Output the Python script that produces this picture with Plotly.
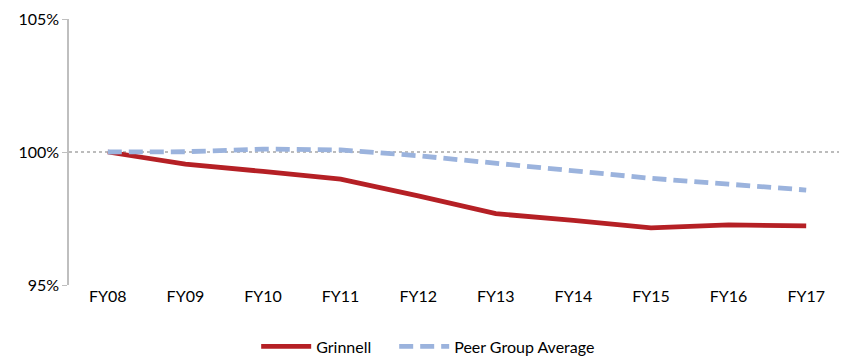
import plotly.graph_objects as go

categories = ["FY08", "FY09", "FY10", "FY11", "FY12", "FY13", "FY14", "FY15", "FY16", "FY17"]
grinnell = [100.0, 99.54, 99.27, 98.98, 98.35, 97.68, 97.43, 97.15, 97.26, 97.22]
peer_avg = [100.0, 100.01, 100.11, 100.08, 99.86, 99.58, 99.3, 99.01, 98.79, 98.57]
y_ticks = [95, 100, 105]
y_tick_labels = ["95%", "100%", "105%"]

fig = go.Figure()
fig.add_trace(go.Scatter(x=categories, y=grinnell, mode="lines", name="Grinnell",
                         line=dict(color="#B52025", width=4.8), legend="legend"))
fig.add_trace(go.Scatter(x=categories, y=peer_avg, mode="lines", name="Peer Group Average",
                         line=dict(color="#9BB3DD", width=4.8, dash="14px,7px"),
                         legend="legend2"))

fig.add_shape(type="line", xref="paper", yref="y", x0=0, x1=1, y0=100, y1=100,
              line=dict(color="#A6A6A6", width=1.5, dash="dot"), layer="below")

legend_common = dict(orientation="h", xanchor="left", xref="container",
                     y=0.03, yanchor="middle", yref="container",
                     font=dict(size=16), itemwidth=50, tracegroupgap=0)

# page has an 8px body margin, so the figure is sized/offset to compensate
fig.update_layout(
    width=839, height=349,
    margin=dict(l=61, r=2, t=11, b=72),
    paper_bgcolor="white", plot_bgcolor="white",
    font=dict(family="Lato, 'Open Sans', sans-serif", size=16, color="#000000"),
    showlegend=True,
    legend=dict(x=0.2958, **legend_common),
    legend2=dict(x=0.4603, **legend_common),
    xaxis=dict(type="category", range=[-0.5, 9.5], showgrid=False, showline=False,
               zeroline=False, ticks="", tickfont=dict(size=16), automargin=False),
    yaxis=dict(range=[95, 105], tickvals=y_ticks, ticktext=y_tick_labels,
               showgrid=False, zeroline=False, showline=True, linecolor="#BFBFBF",
               linewidth=1.5, ticks="outside", ticklen=5, tickcolor="#BFBFBF",
               tickfont=dict(size=16), automargin=False),
)

fig.write_html("out.html")
